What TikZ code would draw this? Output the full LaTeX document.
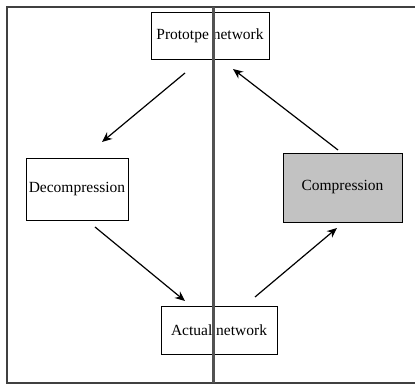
\documentclass[tikz,border=0pt]{standalone}
\usepackage{fontspec}
\setmainfont{Liberation Serif}
\usetikzlibrary{arrows.meta}
\begin{document}
\begin{tikzpicture}[x=1pt,y=1pt,
  stagebox/.style={draw=black,line width=0.9pt,inner sep=0pt,
    font=\fontsize{15.5}{18}\selectfont},
  flow/.style={line width=1.2pt,-{Stealth[length=10pt,width=8.5pt]}},
  frameline/.style={draw=black!75,line width=1.8pt}]
\useasboundingbox (0,0) rectangle (415,385);

% the four stages of the cycle
\node[stagebox,minimum width=118pt,minimum height=47pt] (proto) at (210,349.5) {Prototpe network};
\node[stagebox,minimum width=102pt,minimum height=62pt] (decomp) at (77,196) {Decompression};
\node[stagebox,fill=black!24,minimum width=119pt,minimum height=69pt] (comp) at (342.5,197.5) {Compression};
\node[stagebox,minimum width=116pt,minimum height=48pt] (actual) at (219,55) {Actual network};

% arrow end points
\coordinate (p1) at (185,312);
\coordinate (d1) at (102,243);
\coordinate (d2) at (95,158);
\coordinate (a1) at (185,84);
\coordinate (a2) at (255,88);
\coordinate (c1) at (337,157);
\coordinate (c2) at (338,235);
\coordinate (p2) at (233,316);

\draw[flow] (p1) -- (d1);
\draw[flow] (d2) -- (a1);
\draw[flow] (a2) -- (c1);
\draw[flow] (c2) -- (p2);

% outer frame
\coordinate (tl) at (7,378);
\coordinate (tr) at (416,378);
\coordinate (bl) at (7,2);
\coordinate (br) at (416,2);
\draw[frameline] (tr) -- (tl) -- (bl) -- (br);

% dividing line
\coordinate (vt) at (213.5,378);
\coordinate (vb) at (213.5,2);
\draw[draw=black!68,line width=3pt] (vt) -- (vb);
\end{tikzpicture}
\end{document}
